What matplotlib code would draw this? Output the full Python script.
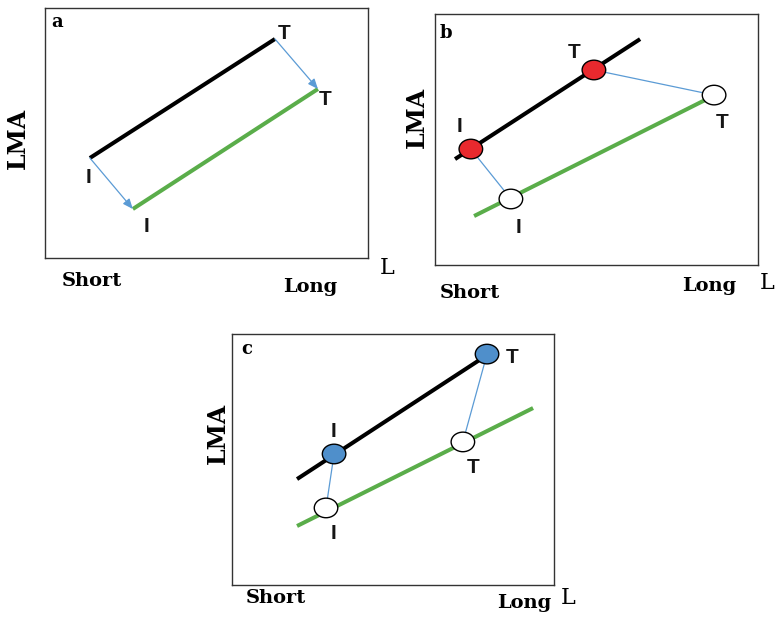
import matplotlib
matplotlib.use("Agg")
import matplotlib.pyplot as plt
from matplotlib.patches import Ellipse

W, H = 776, 617

# ---- data (axes data units 0..100 in each panel) ----
# Panel a
a_black_x = [13.9, 71.2]
a_black_y = [40.0, 87.6]
a_green_x = [27.2, 84.5]
a_green_y = [19.6, 67.6]
a_labels = ["T", "T", "I", "I"]
a_label_x = [74.0, 86.7, 13.6, 31.3]
a_label_y = [90.0, 63.6, 32.4, 12.8]

# Panel b
b_black_x = [6.2, 63.5]
b_black_y = [42.2, 90.0]
b_green_x = [12.1, 84.2]
b_green_y = [19.5, 66.1]
b_filled_x = [11.1, 49.2]
b_filled_y = [46.2, 77.7]
b_open_x = [23.5, 86.4]
b_open_y = [26.3, 67.7]
b_labels = ["T", "I", "T", "I"]
b_label_x = [43.0, 7.7, 88.9, 26.0]
b_label_y = [84.5, 55.0, 56.6, 15.1]

# Panel c
c_black_x = [20.2, 79.2]
c_black_y = [42.2, 91.6]
c_green_x = [20.2, 93.5]
c_green_y = [23.5, 70.5]
c_filled_x = [31.7, 79.2]
c_filled_y = [52.2, 92.0]
c_open_x = [29.2, 71.7]
c_open_y = [30.7, 57.0]
c_labels = ["T", "I", "T", "I"]
c_label_x = [87.0, 31.4, 74.8, 31.4]
c_label_y = [90.8, 61.0, 47.0, 20.7]

panel_letters = ["a", "b", "c"]
axis_x_short, axis_x_long, axis_x_name, axis_y_name = "Short", "Long", "L", "LMA"

# ---- styling ----
BLACK = "#000000"
GREEN = "#5aad4a"
CONN = "#5b9bd5"
RED = "#e8292e"
BLUEF = "#4f8fcb"
SERIF = "DejaVu Serif"
SANS = "Liberation Sans"

fig = plt.figure(figsize=(W / 100, H / 100), dpi=100)


def make_ax(l, t, r, b):
    ax = fig.add_axes([l / W, 1 - b / H, (r - l) / W, (b - t) / H])
    ax.set_xlim(0, 100)
    ax.set_ylim(0, 100)
    ax.set_xticks([])
    ax.set_yticks([])
    for s in ax.spines.values():
        s.set_color("#333333")
        s.set_linewidth(1.0)
    return ax


def ftext(x, y, s, **kw):
    fig.text(x / W, 1 - y / H, s, ha="center", va="center", **kw)


def panel_decor(ax, letter, lx, ly, short_xy, long_xy, L_xy, lma_xy, labels, tx, ty):
    ax.text(lx, ly, letter, family=SERIF, fontweight="bold", fontsize=13,
            ha="center", va="center")
    for s, x, y in zip(labels, tx, ty):
        ax.text(x, y, s, family=SANS, fontweight="bold", fontsize=15,
                ha="center", va="center", color="#151515")
    ftext(*short_xy, axis_x_short, family=SERIF, fontweight="bold", fontsize=14)
    ftext(*long_xy, axis_x_long, family=SERIF, fontweight="bold", fontsize=14)
    ftext(*L_xy, axis_x_name, family=SERIF, fontsize=16)
    ftext(*lma_xy, axis_y_name, family=SERIF, fontweight="bold", fontsize=17,
          rotation=90)


def ellipse(ax, x, y, fc):
    ax.add_patch(Ellipse((x, y), 7.3, 7.8, facecolor=fc, edgecolor="black",
                         linewidth=1.0, zorder=5))


# Panel a
axa = make_ax(45, 8, 368, 258)
axa.plot(a_black_x, a_black_y, color=BLACK, lw=2.9, solid_capstyle="butt")
axa.plot(a_green_x, a_green_y, color=GREEN, lw=2.9, solid_capstyle="butt")
for i in range(2):
    axa.annotate("", xy=(a_green_x[i], a_green_y[i]),
                 xytext=(a_black_x[i], a_black_y[i]),
                 arrowprops=dict(arrowstyle="-|>,head_length=0.6,head_width=0.25",
                                 color=CONN, lw=0.9, shrinkA=0, shrinkB=0))
panel_decor(axa, panel_letters[0], 3.7, 94.4, (92, 281), (310, 287), (387, 268),
            (18, 138), a_labels, a_label_x, a_label_y)

# Panel b
axb = make_ax(435, 14, 758, 265)
axb.plot(b_black_x, b_black_y, color=BLACK, lw=2.9, solid_capstyle="butt")
axb.plot(b_green_x, b_green_y, color=GREEN, lw=2.9, solid_capstyle="butt")
for i in range(2):
    axb.plot([b_filled_x[i], b_open_x[i]], [b_filled_y[i], b_open_y[i]],
             color=CONN, lw=0.9)
    ellipse(axb, b_filled_x[i], b_filled_y[i], RED)
    ellipse(axb, b_open_x[i], b_open_y[i], "white")
panel_decor(axb, panel_letters[1], 3.4, 92.4, (470, 293), (709, 286), (767, 283),
            (417, 117), b_labels, b_label_x, b_label_y)

# Panel c
axc = make_ax(232, 334, 554, 585)
axc.plot(c_black_x, c_black_y, color=BLACK, lw=2.9, solid_capstyle="butt")
axc.plot(c_green_x, c_green_y, color=GREEN, lw=2.9, solid_capstyle="butt")
for i in range(2):
    axc.plot([c_filled_x[i], c_open_x[i]], [c_filled_y[i], c_open_y[i]],
             color=CONN, lw=0.9)
    ellipse(axc, c_filled_x[i], c_filled_y[i], BLUEF)
    ellipse(axc, c_open_x[i], c_open_y[i], "white")
panel_decor(axc, panel_letters[2], 4.7, 94.0, (276, 598), (524, 603), (568, 598),
            (218, 433), c_labels, c_label_x, c_label_y)

fig.savefig("out.png", dpi=100, facecolor="white")
